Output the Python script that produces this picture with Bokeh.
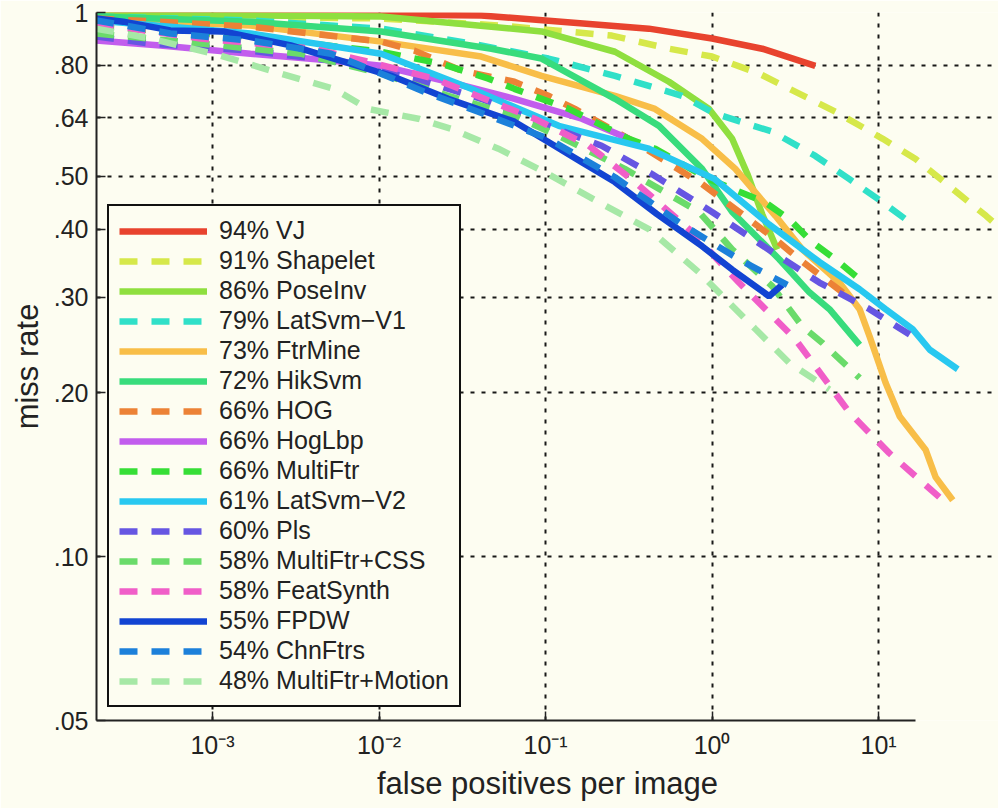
from bokeh.plotting import figure
from bokeh.models import Range1d, FixedTicker
from bokeh.embed import file_html
from bokeh.resources import INLINE

# ---------------- data ----------------
labels = ["94% VJ", "91% Shapelet", "86% PoseInv", "79% LatSvm\u2212V1", "73% FtrMine",
          "72% HikSvm", "66% HOG", "66% HogLbp", "66% MultiFtr", "61% LatSvm\u2212V2",
          "60% Pls", "58% MultiFtr+CSS", "58% FeatSynth", "55% FPDW", "54% ChnFtrs",
          "48% MultiFtr+Motion"]
colors = ["#e8432e", "#d6e84a", "#8fdf3f", "#30e0c8", "#f8be48",
          "#38dc7c", "#ec8236", "#c25ded", "#36de36", "#28c8f0",
          "#6656e2", "#6adb6a", "#f05ec8", "#1244d2", "#1c80da",
          "#a6e8a6"]
dashed = [False, True, False, True, False,
          False, True, False, True, False,
          True, True, True, False, True,
          True]

vj_fppi = [0.0002, 0.00169, 0.0103, 0.0411, 0.1, 0.417, 1.0, 2.0, 4.17]
vj_miss = [0.996, 0.996, 0.992, 0.987, 0.967, 0.934, 0.896, 0.858, 0.798]

shapelet_fppi = [0.0002, 0.0103, 0.0544, 0.25, 0.551, 1.0, 1.92, 5.51, 10.6, 16.7, 44.2, 64]
shapelet_miss = [0.987, 0.975, 0.946, 0.907, 0.858, 0.830, 0.772, 0.657, 0.586, 0.538, 0.423, 0.383]

poseinv_fppi = [0.0002, 0.0103, 0.0946, 0.261, 0.551, 0.959, 1.32, 1.63, 2.0, 2.46]
poseinv_miss = [0.992, 0.983, 0.923, 0.847, 0.746, 0.665, 0.586, 0.505, 0.426, 0.367]

latsvm1_fppi = [0.0002, 0.00169, 0.0103, 0.0358, 0.104, 0.261, 0.659, 1.04, 2.30, 4.17, 6.68, 10.6, 15.0]
latsvm1_miss = [0.983, 0.967, 0.934, 0.877, 0.823, 0.765, 0.703, 0.652, 0.604, 0.545, 0.494, 0.448, 0.414]

ftrmine_fppi = [0.0002, 0.00169, 0.0103, 0.0411, 0.0946, 0.261, 0.454, 0.871, 1.38, 2.40, 3.48,
                5.82, 7.69, 8.83, 11.0, 13.4, 19.2, 22.0, 27.9]
ftrmine_miss = [0.975, 0.946, 0.884, 0.830, 0.765, 0.703, 0.665, 0.586, 0.516, 0.423, 0.367,
                0.319, 0.285, 0.254, 0.209, 0.181, 0.157, 0.140, 0.127]

hiksvm_fppi = [0.0002, 0.00169, 0.0103, 0.0473, 0.0946, 0.261, 0.480, 0.871, 1.32, 2.53, 3.84, 5.07, 7.69]
hiksvm_miss = [0.983, 0.962, 0.923, 0.858, 0.823, 0.694, 0.619, 0.516, 0.430, 0.352, 0.306, 0.285, 0.245]

hog_fppi = [0.0002, 0.00169, 0.0103, 0.0163, 0.0312, 0.0650, 0.104, 0.150, 0.344, 0.871, 2.40, 3.34, 6.07, 6.97]
hog_miss = [0.975, 0.942, 0.884, 0.851, 0.782, 0.746, 0.703, 0.665, 0.578, 0.484, 0.383, 0.352, 0.306, 0.297]

hoglbp_fppi = [0.0002, 0.000487, 0.00169, 0.00514, 0.0103, 0.0260, 0.0650, 0.165, 0.316]
hoglbp_miss = [0.888, 0.870, 0.840, 0.816, 0.798, 0.746, 0.694, 0.638, 0.586]

multiftr_fppi = [0.0002, 0.00169, 0.0103, 0.0236, 0.0454, 0.0650, 0.138, 0.316, 0.454, 0.959,
                 2.08, 2.91, 4.00, 5.51, 8.01]
multiftr_miss = [0.942, 0.903, 0.847, 0.805, 0.756, 0.724, 0.665, 0.586, 0.562, 0.494,
                 0.448, 0.417, 0.378, 0.352, 0.320]

latsvm2_fppi = [0.0002, 0.00169, 0.0103, 0.0358, 0.120, 0.417, 1.04, 2.20, 4.41, 7.69, 11.0, 16.0, 20.3, 29.9]
latsvm2_miss = [0.967, 0.915, 0.840, 0.724, 0.619, 0.562, 0.494, 0.408, 0.348, 0.310, 0.285, 0.262, 0.240, 0.221]

pls_fppi = [0.0002, 0.000424, 0.00169, 0.00514, 0.0163, 0.0411, 0.104, 0.217, 0.435, 1.0, 2.30, 4.41, 8.83, 16.0]
pls_miss = [0.903, 0.877, 0.851, 0.816, 0.756, 0.694, 0.619, 0.569, 0.505, 0.430, 0.363, 0.319, 0.285, 0.254]

mfcss_fppi = [0.0002, 0.000847, 0.00339, 0.0103, 0.0260, 0.0650, 0.130, 0.299, 0.835, 1.32, 2.30, 3.48, 4.60, 7.69]
mfcss_miss = [0.915, 0.877, 0.840, 0.772, 0.703, 0.646, 0.586, 0.516, 0.430, 0.367, 0.314, 0.265, 0.247, 0.213]

featsynth_fppi = [0.0002, 0.000847, 0.00406, 0.00859, 0.0214, 0.0859, 0.182, 0.344, 0.726, 1.45, 3.16, 6.68, 11.6, 24.3]
featsynth_miss = [0.954, 0.896, 0.858, 0.812, 0.756, 0.638, 0.569, 0.488, 0.400, 0.319, 0.251, 0.184, 0.155, 0.127]

fpdw_fppi = [0.0002, 0.000291, 0.000558, 0.00116, 0.00295, 0.00466, 0.0118, 0.0260, 0.0650, 0.104,
             0.165, 0.261, 0.467, 0.871, 1.32, 2.20, 2.64]
fpdw_miss = [0.975, 0.962, 0.927, 0.923, 0.870, 0.833, 0.765, 0.694, 0.630, 0.578,
             0.531, 0.488, 0.426, 0.372, 0.337, 0.301, 0.316]

chnftrs_fppi = [0.0002, 0.000558, 0.00169, 0.00514, 0.0103, 0.0187, 0.0394, 0.104, 0.261, 0.659, 1.52, 2.83]
chnftrs_miss = [0.967, 0.915, 0.888, 0.840, 0.772, 0.715, 0.657, 0.586, 0.498, 0.408, 0.349, 0.316]

mfmotion_fppi = [0.0002, 0.000424, 0.00112, 0.00233, 0.00536, 0.00859, 0.0172, 0.0272, 0.0521, 0.0986,
                 0.209, 0.417, 0.835, 1.82, 2.91, 5.07]
mfmotion_miss = [0.934, 0.896, 0.833, 0.779, 0.724, 0.665, 0.638, 0.611, 0.562, 0.509,
                 0.448, 0.400, 0.333, 0.262, 0.227, 0.203]

x_ticks = [1e-3, 1e-2, 1e-1, 1.0, 10.0]
x_tick_labels = ["10\u207b\u00b3", "10\u207b\u00b2", "10\u207b\u00b9", "10\u2070", "10\u00b9"]
y_ticks = [0.05, 0.10, 0.20, 0.30, 0.40, 0.50, 0.64, 0.80, 1.0]
y_tick_labels = [".05", ".10", ".20", ".30", ".40", ".50", ".64", ".80", "1"]

series = [(vj_fppi, vj_miss), (shapelet_fppi, shapelet_miss), (poseinv_fppi, poseinv_miss),
          (latsvm1_fppi, latsvm1_miss), (ftrmine_fppi, ftrmine_miss), (hiksvm_fppi, hiksvm_miss),
          (hog_fppi, hog_miss), (hoglbp_fppi, hoglbp_miss), (multiftr_fppi, multiftr_miss),
          (latsvm2_fppi, latsvm2_miss), (pls_fppi, pls_miss), (mfcss_fppi, mfcss_miss),
          (featsynth_fppi, featsynth_miss), (fpdw_fppi, fpdw_miss), (chnftrs_fppi, chnftrs_miss),
          (mfmotion_fppi, mfmotion_miss)]

# ---------------- figure ----------------
BG = "#fdfdf1"
FONT = "Liberation Sans"
TXT = "#222222"

p = figure(width=998, height=808, x_axis_type="log", y_axis_type="log",
           x_range=Range1d(2.01e-4, 52.5), y_range=Range1d(0.05, 1.0),
           output_backend="svg", toolbar_location=None,
           min_border_left=96, min_border_right=0, min_border_top=12, min_border_bottom=88)
p.background_fill_color = BG
p.border_fill_color = BG
p.outline_line_color = None

for (fx, my), lab, col, dsh in zip(series, labels, colors, dashed):
    p.line(fx, my, line_color=col, line_width=6.5, legend_label=lab,
           line_dash="18 14" if dsh else "solid")

# axes
p.xaxis.ticker = FixedTicker(ticks=x_ticks)
p.xaxis.major_label_overrides = dict(zip(x_ticks, x_tick_labels))
p.yaxis.ticker = FixedTicker(ticks=y_ticks)
p.yaxis.major_label_overrides = dict(zip(y_ticks, y_tick_labels))
p.xaxis.bounds = (2.01e-4, 16.7)

for ax in (p.xaxis, p.yaxis):
    ax.axis_line_color = TXT
    ax.axis_line_width = 2
    ax.major_tick_line_color = TXT
    ax.major_tick_line_width = 1.5
    ax.major_tick_in = 9
    ax.major_tick_out = 0
    ax.minor_tick_line_color = None
    ax.major_label_text_font = FONT
    ax.major_label_text_font_size = "25px"
    ax.major_label_text_color = TXT
    ax.axis_label_text_font = FONT
    ax.axis_label_text_font_size = "31px"
    ax.axis_label_text_font_style = "normal"
    ax.axis_label_text_color = TXT

p.xaxis.axis_label = "false positives per image"
p.yaxis.axis_label = "miss rate"
p.xaxis.major_label_standoff = 10
p.yaxis.major_label_standoff = 8
p.xaxis.axis_label_standoff = 4
p.yaxis.axis_label_standoff = 6

# grids
p.xgrid.ticker = FixedTicker(ticks=x_ticks)
p.ygrid.ticker = FixedTicker(ticks=y_ticks[1:])
for g in (p.xgrid, p.ygrid):
    g.grid_line_color = "black"
    g.grid_line_width = 2
    g.grid_line_dash = "4 7"
    g.grid_line_alpha = 0.9

# legend
lg = p.legend[0]
lg.location = (11, 13)
lg.background_fill_color = BG
lg.background_fill_alpha = 1.0
lg.border_line_color = "#111111"
lg.border_line_alpha = 1.0
lg.border_line_width = 2
lg.padding = 10
lg.spacing = 1
lg.margin = 0
lg.glyph_width = 88
lg.glyph_height = 20
lg.label_height = 29
lg.label_standoff = 12
lg.label_text_font = FONT
lg.label_text_font_size = "25px"
lg.label_text_color = TXT
lg.label_text_baseline = "middle"

html = file_html(p, INLINE)
html = html.replace("<body>", '<body style="background-color:%s;">' % BG, 1)
open("out.html", "w").write(html)
